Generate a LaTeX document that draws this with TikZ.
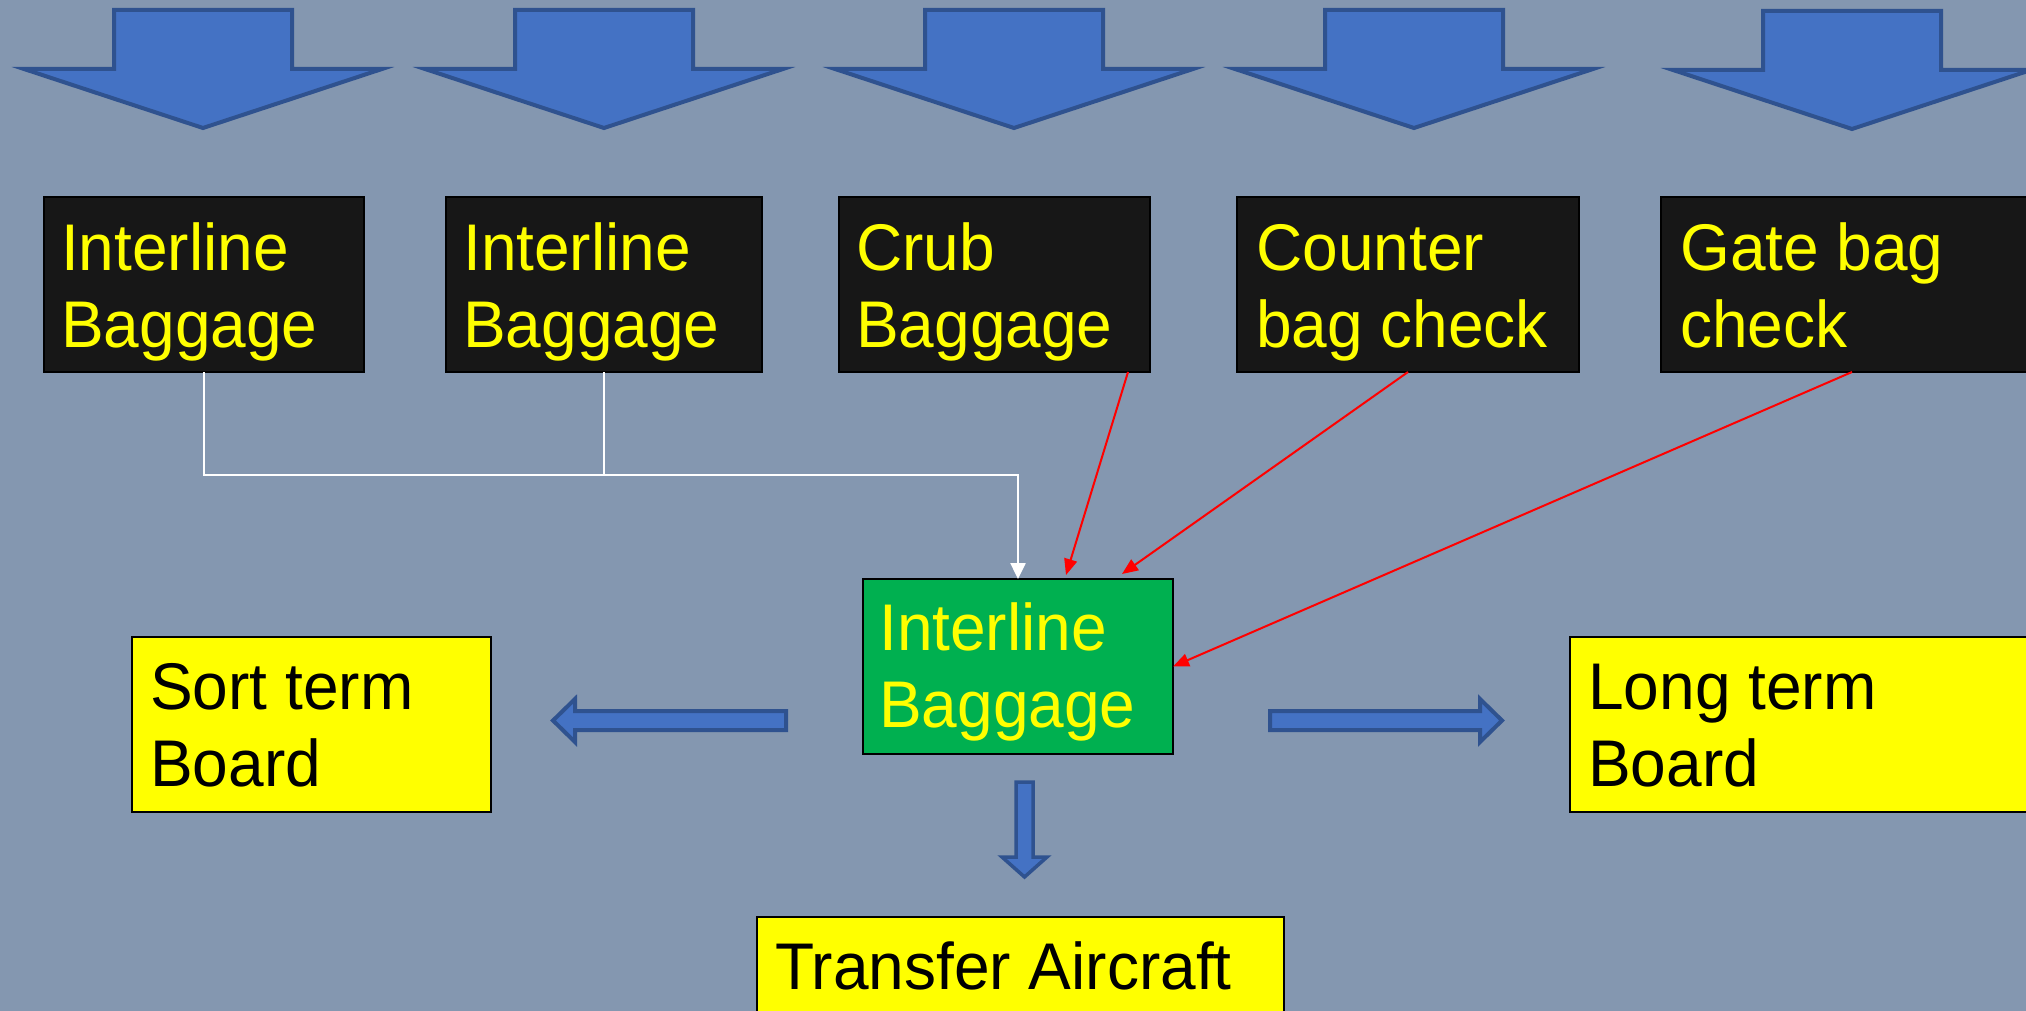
\documentclass[tikz,border=0pt]{standalone}
\usepackage{fontspec}
\setmainfont{Liberation Sans}[FakeStretch=0.97]
\usetikzlibrary{arrows.meta,calc}
\definecolor{bg}{HTML}{8497B0}
\definecolor{arrfill}{HTML}{4472C4}
\definecolor{arrline}{HTML}{2F528F}
\definecolor{boxblack}{HTML}{171717}
\definecolor{boxgreen}{HTML}{00B050}
\definecolor{ylw}{HTML}{FFFF00}
\begin{document}
\begin{tikzpicture}[x=1pt,y=-1pt,
  box/.style={rectangle, inner sep=0pt, outer sep=0pt, line width=2pt, draw=black},
  blackbox/.style={box, fill=boxblack},
  yellowbox/.style={box, fill=ylw},
  greenbox/.style={box, fill=boxgreen},
  lbl/.style={anchor=base west, inner sep=0pt, align=left, font=\fontsize{66}{77}\selectfont},
  blockarrow/.style={fill=arrfill, draw=arrline, line width=4pt, line join=miter},
  wline/.style={draw=white, line width=2.5pt, -{Triangle[length=16pt,width=15pt]}},
  rline/.style={draw=red, line width=2pt, -{Triangle[length=16pt,width=13pt]}}
]
\useasboundingbox (0,0) rectangle (2026,1011);
\clip (0,0) rectangle (2026,1011);
\fill[bg] (0,0) rectangle (2026,1011);

% top block arrows
\foreach \c/\d in {203/0,604/0,1014/0,1414/0,1852/1}{
  \draw[blockarrow] (\c-89,10+\d) -- (\c+89,10+\d) -- (\c+89,69+\d) -- (\c+179,69+\d)
    -- (\c,128+\d) -- (\c-179,69+\d) -- (\c-89,69+\d) -- cycle;
}

% source boxes
\node[blackbox, minimum width=320pt, minimum height=175pt] (b1) at (204,284.5) {};
\node[blackbox, minimum width=316pt, minimum height=175pt] (b2) at (604,284.5) {};
\node[blackbox, minimum width=311pt, minimum height=175pt] (b3) at (994.5,284.5) {};
\node[blackbox, minimum width=342pt, minimum height=175pt] (b4) at (1408,284.5) {};
\node[blackbox, minimum width=382pt, minimum height=175pt] (b5) at (1852,284.5) {};
\node[lbl, text=ylw] (t1) at (61,347) {Interline\\Baggage};
\node[lbl, text=ylw] (t2) at (463,347) {Interline\\Baggage};
\node[lbl, text=ylw] (t3) at (856,347) {Crub\\Baggage};
\node[lbl, text=ylw] (t4) at (1256,347) {Counter\\bag check};
\node[lbl, text=ylw] (t5) at (1680,347) {Gate bag\\check};

% central box
\node[greenbox, minimum width=310pt, minimum height=175pt] (g) at (1018,666.5) {};
\node[lbl, text=ylw] (tg) at (879,727) {Interline\\Baggage};

% destination boxes
\node[yellowbox, minimum width=359pt, minimum height=175pt] (s) at (311.5,724.5) {};
\node[lbl, text=black] (ts) at (150,786) {Sort term\\Board};
\node[yellowbox, minimum width=530pt, minimum height=175pt] (l) at (1835,724.5) {};
\node[lbl, text=black] (tl) at (1588,786) {Long term\\Board};
\node[yellowbox, minimum width=527pt, minimum height=175pt] (ta) at (1020.5,1004.5) {};
\node[lbl, text=black] (tta) at (775,989) {Transfer Aircraft};

% connectors into the central box
\coordinate (j) at (604,475);
\draw[wline] (b1.south) -- (b1.south |- j) -| (g.north);
\draw[draw=white, line width=2.5pt] (b2.south) -- (j);
\draw[rline] ($(b3.south east)+(-22,0)$) -- ($(g.north west)+(203,-4)$);
\draw[rline] (b4.south) -- ($(g.north west)+(259,-5)$);
\draw[rline] (b5.south) -- (g.east);

% block arrows out of the central box
\draw[blockarrow] (786,711) -- (575,711) -- (575,699) -- (553,720.5) -- (575,742) -- (575,730) -- (786,730) -- cycle;
\draw[blockarrow] (1270,711) -- (1480,711) -- (1480,699) -- (1502,720.5) -- (1480,742) -- (1480,730) -- (1270,730) -- cycle;
\draw[blockarrow, line width=3.5pt] (1016,782) -- (1033,782) -- (1033,857) -- (1047,857) -- (1024.5,877) -- (1002,857) -- (1016,857) -- cycle;
\end{tikzpicture}
\end{document}
